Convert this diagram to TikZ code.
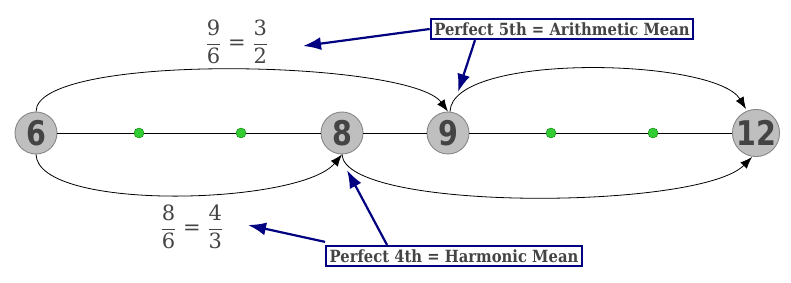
\documentclass[tikz,border=0pt]{standalone}
\usepackage{fontspec}
\usepackage{amsmath}
\setmainfont{DejaVu Serif}
\newfontfamily\numfont[FakeStretch=0.84]{DejaVu Sans}
\newfontfamily\boxfont[FakeStretch=0.88]{DejaVu Serif}
\usetikzlibrary{arrows.meta}
\definecolor{ink}{HTML}{444444}
\definecolor{navyc}{HTML}{000080}
\begin{document}
\begin{tikzpicture}[x=1pt,y=-1pt,
  num/.style={circle,fill=black!25,draw=black!47,line width=0.9pt,minimum size=42pt,inner sep=0pt,text=ink,font=\numfont\bfseries\fontsize{34}{34}\selectfont},
  dot/.style={circle,fill=green!75!black!80!white,draw=green!50!black,line width=0.4pt,minimum size=10pt,inner sep=0pt},
  callout/.style={draw=navyc,line width=2.2pt,fill=white,inner sep=3.5pt,text=ink,font=\boxfont\bfseries\fontsize{16.8}{18}\selectfont},
  frac/.style={text=ink,font=\fontsize{21}{24}\selectfont},
  conn/.style={line width=0.8pt,-{Latex[length=12pt,width=9pt]}},
  pointer/.style={navyc,line width=2.2pt,-{Latex[length=18pt,width=13pt]}}]
\useasboundingbox (0,0) rectangle (791,283);
\node[num] (n6) at (36,133) {6};
\node[num] (n8) at (342,133) {8};
\node[num] (n9) at (448,133) {9};
\node[num] (n12) at (756,133) {12};
\draw[line width=0.7pt] (n6) -- (n8);
\draw[line width=0.7pt] (n8) -- (n9);
\draw[line width=0.7pt] (n9) -- (n12);
\node[dot] (d1) at (139,133) {};
\node[dot] (d2) at (241,133) {};
\node[dot] (d3) at (551,133) {};
\node[dot] (d4) at (653,133) {};
\draw[conn] (n6.north) .. controls (36,52) and (410,60) .. (n9.north);
\draw[conn] ([xshift=2pt]n9.north) .. controls (452,52) and (715,58) .. ([xshift=-10pt]n12.north);
\draw[conn] (n6.south) .. controls (38,212) and (300,205) .. (n8.south);
\draw[conn] (n8.south) .. controls (345,212) and (700,210) .. ([xshift=-4pt]n12.south);
\node[frac] (f1) at (237,42) {$\dfrac{\text{9}}{\text{6}}\text{ = }\dfrac{\text{3}}{\text{2}}$};
\node[frac] (f2) at (192,227) {$\dfrac{\text{8}}{\text{6}}\text{ = }\dfrac{\text{4}}{\text{3}}$};
\node[callout] (b1) at (562,29) {Perfect 5th = Arithmetic Mean};
\node[callout] (b2) at (454,256) {Perfect 4th = Harmonic Mean};
\coordinate (t1) at (303,46);
\coordinate (t2) at (458,92);
\coordinate (t3) at (347,170);
\coordinate (t4) at (248,225);
\draw[pointer] (b1.west) -- (t1);
\draw[pointer] ([xshift=-87pt]b1.south) -- (t2);
\draw[pointer] ([xshift=-67pt]b2.north) -- (t3);
\draw[pointer] ([yshift=3pt]b2.north west) -- (t4);
\end{tikzpicture}
\end{document}
